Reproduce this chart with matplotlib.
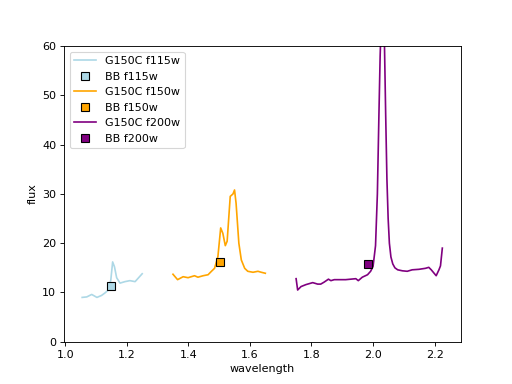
import numpy as np
import matplotlib
matplotlib.use("Agg")
import matplotlib.pyplot as plt

# spectra
wl_115 = [1.055, 1.070, 1.086, 1.103, 1.118, 1.129, 1.140, 1.148, 1.154, 1.160, 1.167, 1.178,
          1.194, 1.210, 1.227, 1.237, 1.250]
fl_115 = [9.0, 9.1, 9.6, 9.0, 9.4, 9.9, 10.5, 12.5, 16.2, 15.2, 13.0, 11.9,
          12.2, 12.4, 12.2, 12.9, 13.8]

wl_150 = [1.350, 1.365, 1.383, 1.399, 1.420, 1.431, 1.448, 1.464, 1.475, 1.485, 1.496, 1.505,
          1.512, 1.520, 1.526, 1.536, 1.545, 1.550, 1.555, 1.564, 1.572, 1.583, 1.593, 1.610,
          1.626, 1.637, 1.650]
fl_150 = [13.7, 12.6, 13.2, 13.0, 13.4, 13.1, 13.4, 13.6, 14.3, 14.9, 17.3, 23.1,
          22.0, 19.5, 20.4, 29.5, 30.0, 30.8, 28.1, 20.0, 16.6, 14.9, 14.3, 14.1,
          14.3, 14.1, 13.9]

wl_200 = [1.750, 1.755, 1.766, 1.782, 1.804, 1.820, 1.830, 1.841, 1.855, 1.863, 1.874, 1.911,
          1.944, 1.952, 1.965, 1.982, 1.992, 2.000, 2.008, 2.014, 2.019, 2.023, 2.028, 2.032,
          2.036, 2.041, 2.045, 2.049, 2.053, 2.058, 2.064, 2.071, 2.080, 2.095, 2.111, 2.127,
          2.149, 2.170, 2.181, 2.189, 2.205, 2.214, 2.219, 2.225]
fl_200 = [12.8, 10.5, 11.2, 11.6, 12.0, 11.7, 11.7, 12.1, 12.7, 12.4, 12.6, 12.6,
          12.8, 12.4, 13.1, 13.6, 14.3, 15.3, 19.5, 30.0, 46.0, 58.0, 68.0, 71.0,
          64.0, 46.0, 33.0, 25.0, 20.0, 17.2, 15.8, 15.0, 14.6, 14.4, 14.3, 14.6,
          14.7, 14.9, 15.1, 14.6, 13.4, 14.6, 15.4, 19.0]

# broad-band photometry points
bb_wl = [1.149, 1.502, 1.985]
bb_fl = [11.3, 16.2, 15.7]

filters = ["f115w", "f150w", "f200w"]
colors = ["lightblue", "orange", "purple"]
waves = [wl_115, wl_150, wl_200]
fluxes = [fl_115, fl_150, fl_200]

fig = plt.figure(figsize=(6.4, 4.8), dpi=80)
for i in range(3):
    plt.plot(waves[i], fluxes[i], color=colors[i], label="G150C " + filters[i])
    plt.plot(bb_wl[i], bb_fl[i], "s", color=colors[i], mec="k", ms=8, label="BB " + filters[i])

plt.ylim(0, 60)
plt.xlim(0.996, 2.285)
plt.xlabel("wavelength")
plt.ylabel("flux")
plt.legend(loc="upper left")
plt.savefig("out.png", dpi=80)
